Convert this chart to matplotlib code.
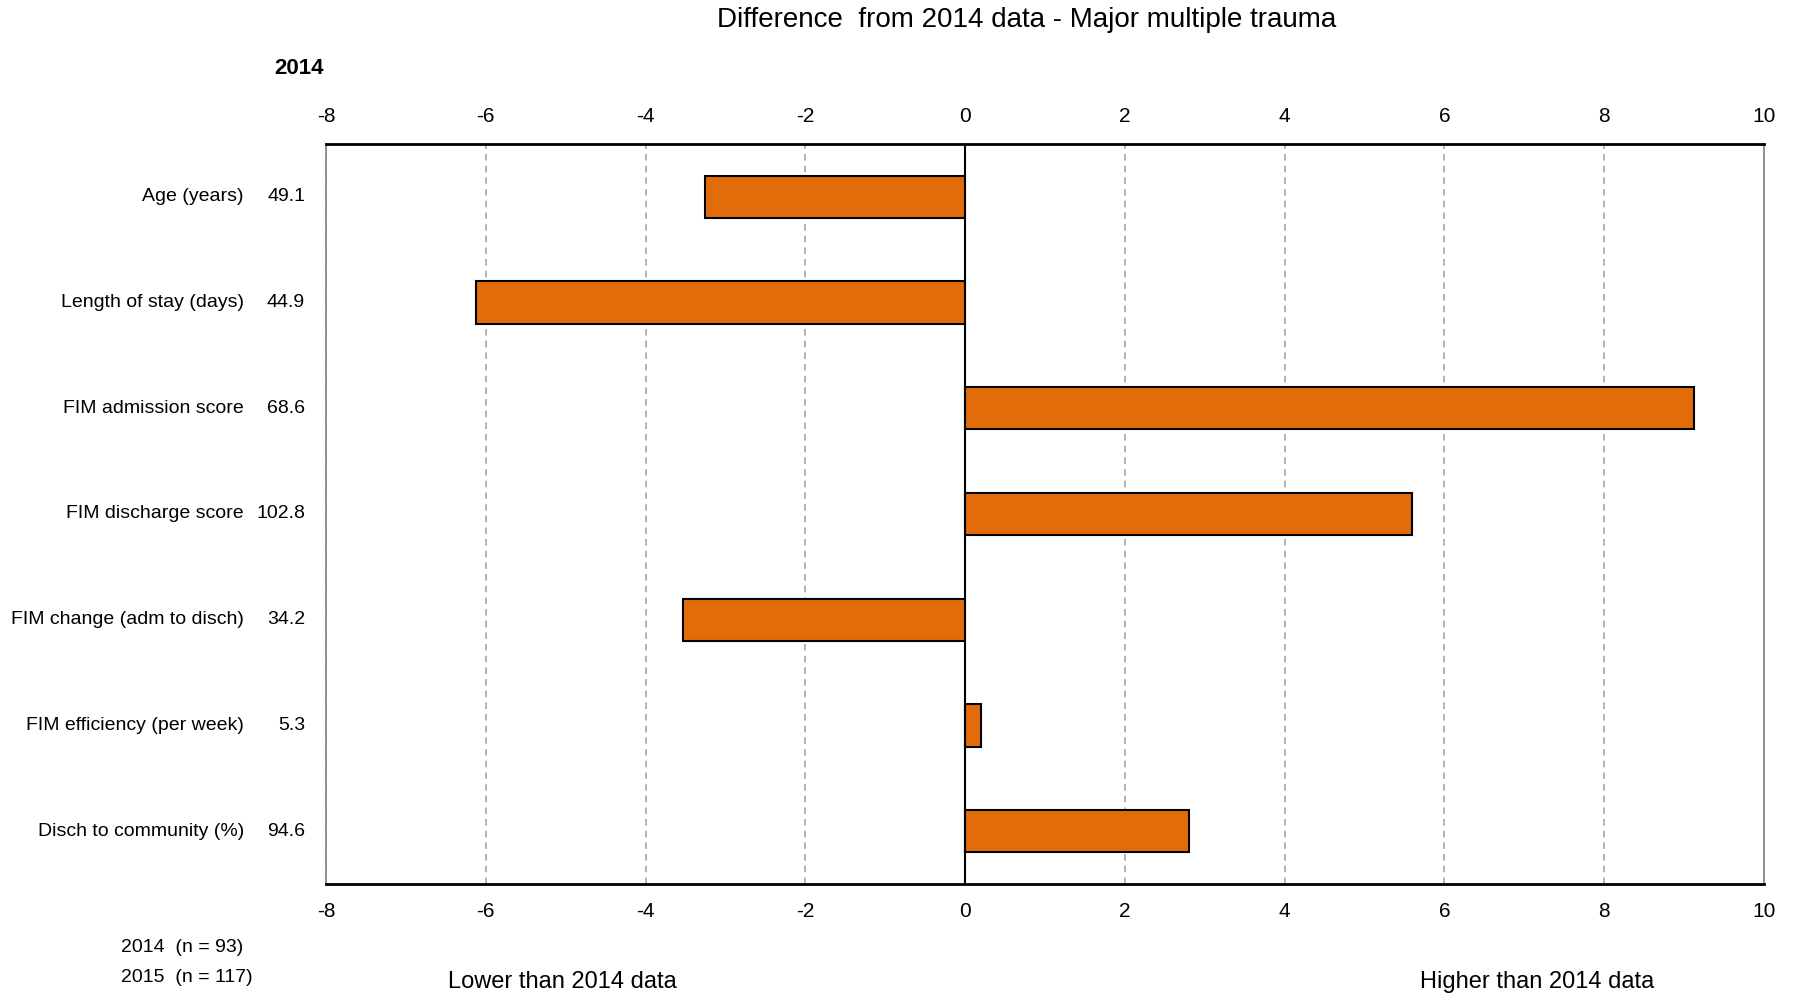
import matplotlib
matplotlib.use("Agg")
import matplotlib.pyplot as plt
from matplotlib import transforms

categories = ["Age (years)", "Length of stay (days)", "FIM admission score",
              "FIM discharge score", "FIM change (adm to disch)",
              "FIM efficiency (per week)", "Disch to community (%)"]
values_2014 = ["49.1", "44.9", "68.6", "102.8", "34.2", "5.3", "94.6"]
differences = [-3.25, -6.12, 9.12, 5.6, -3.53, 0.2, 2.8]
xticks = [-8, -6, -4, -2, 0, 2, 4, 6, 8, 10]

plt.rcParams['font.family'] = ['Liberation Sans', 'DejaVu Sans']
plt.rcParams['axes.unicode_minus'] = False

W, H = 1795, 1001
fig = plt.figure(figsize=(W/100, H/100), dpi=100)
L, R, T, B = 326, 1764, 144, 884
ax = fig.add_axes([L/W, 1-B/H, (R-L)/W, (B-T)/H])

y = list(range(len(categories)))
ax.barh(y, differences, height=0.4, color="#E36C0A", edgecolor="black", linewidth=1.5, zorder=3)
ax.axvline(0, color="black", lw=1.5, zorder=4)
ax.set_xlim(-8, 10)
ax.set_ylim(len(categories)-0.5, -0.5)
ax.set_xticks(xticks)
for t in xticks:
    if t != 0:
        ax.axvline(t, color="#a6a6a6", lw=1.2, ls=(0, (4, 3)), zorder=1)
ax.tick_params(axis='x', top=True, labeltop=True, bottom=True, labelbottom=True,
               length=0, pad=13, labelsize=15)
ax.set_yticks([])
for s in ['top', 'bottom']:
    ax.spines[s].set_linewidth(2)
    ax.spines[s].set_color('black')
for s in ['left', 'right']:
    ax.spines[s].set_linewidth(1.2)
    ax.spines[s].set_color('#808080')

tr = transforms.blended_transform_factory(fig.transFigure, ax.transData)
for i, (c, v) in enumerate(zip(categories, values_2014)):
    ax.text(244/W, i, c, transform=tr, ha='right', va='center', fontsize=14)
    ax.text(305/W, i, v, transform=tr, ha='right', va='center', fontsize=14)

fig.text(1027/W, 1-20/H, "Difference  from 2014 data - Major multiple trauma",
         ha='center', va='center', fontsize=20)
fig.text(324/W, 1-68/H, "2014", ha='right', va='center', fontsize=16, fontweight='bold')
fig.text(121/W, 1-948/H, "2014  (n = 93)", ha='left', va='center', fontsize=14)
fig.text(121/W, 1-977/H, "2015  (n = 117)", ha='left', va='center', fontsize=14)
fig.text(562/W, 1-982/H, "Lower than 2014 data", ha='center', va='center', fontsize=17)
fig.text(1537/W, 1-982/H, "Higher than 2014 data", ha='center', va='center', fontsize=17)

fig.savefig("out.png", dpi=100)
